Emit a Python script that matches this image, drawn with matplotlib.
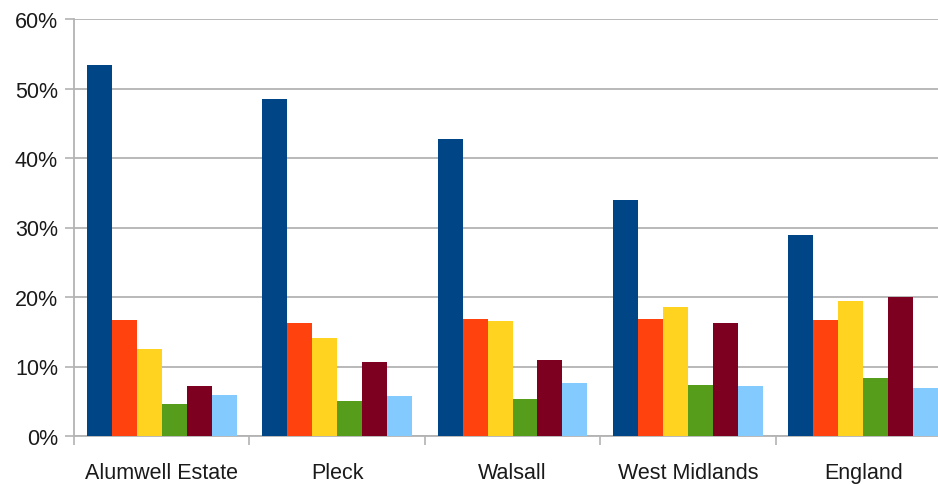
import matplotlib
matplotlib.use("Agg")
import matplotlib.pyplot as plt
import numpy as np

categories = ["Alumwell Estate", "Pleck", "Walsall", "West Midlands", "England"]
s1 = [53.4, 48.5, 42.7, 33.9, 28.9]
s2 = [16.7, 16.2, 16.9, 16.8, 16.7]
s3 = [12.5, 14.1, 16.5, 18.5, 19.4]
s4 = [4.6, 5.1, 5.3, 7.4, 8.3]
s5 = [7.2, 10.6, 11.0, 16.2, 20.0]
s6 = [5.9, 5.7, 7.6, 7.2, 6.9]
series = [s1, s2, s3, s4, s5, s6]
colors = ["#004586", "#ff420e", "#ffd320", "#579d1c", "#7e0021", "#83caff"]
yticks = [0, 10, 20, 30, 40, 50, 60]
ytick_labels = ["0%", "10%", "20%", "30%", "40%", "50%", "60%"]

plt.rcParams['font.family'] = ['Liberation Sans', 'DejaVu Sans']

fig = plt.figure(figsize=(9.38, 4.85), dpi=100)
ax = fig.add_axes([74/938, 1 - 437/485, 877/938, 417/485])

n = len(series)
bw = 0.855 / n
x = np.arange(len(categories))
for i, (vals, c) in enumerate(zip(series, colors)):
    ax.bar(x - 0.855/2 + bw*(i + 0.5), vals, width=bw, color=c, linewidth=0, zorder=3)

ax.set_xlim(-0.5, len(categories) - 0.5)
ax.set_ylim(0, 60)
ax.set_yticks(yticks)
ax.set_yticklabels(ytick_labels, fontsize=15.5, color="#1a1a1a")
ax.yaxis.grid(True, color="#b3b3b3", linewidth=1.3, zorder=0)
ax.set_axisbelow(True)

ax.set_xticks(np.arange(len(categories) + 1) - 0.5)
ax.set_xticklabels([])
ax.set_xticks(x, minor=True)
ax.set_xticklabels(categories, minor=True, fontsize=15.5, color="#1a1a1a")
ax.tick_params(axis='x', which='major', length=6.5, color="#b3b3b3", width=1.2)
ax.tick_params(axis='x', which='minor', length=0, pad=18.5)
ax.tick_params(axis='y', length=6.5, color="#b3b3b3", width=1.2, pad=5)

for side in ["top", "right"]:
    ax.spines[side].set_visible(False)
for side in ["left", "bottom"]:
    ax.spines[side].set_color("#b3b3b3")
    ax.spines[side].set_linewidth(1.3)

fig.savefig("out.png", dpi=100)
